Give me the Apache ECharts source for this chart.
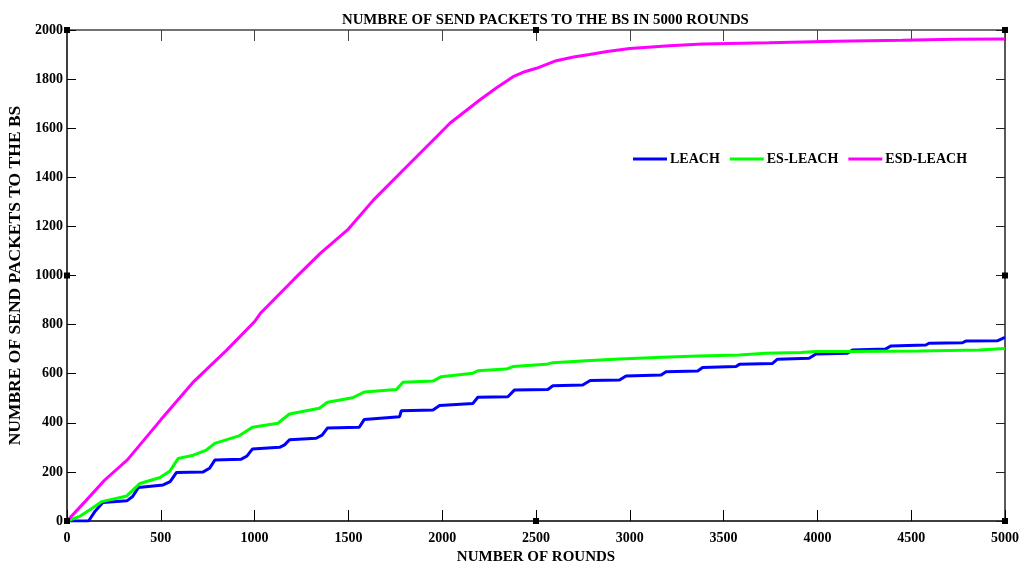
<!DOCTYPE html>
<html>
<head>
<meta charset="utf-8">
<script src="https://cdn.jsdelivr.net/npm/echarts@6/dist/echarts.min.js"></script>
<style>
html,body{margin:0;padding:0;background:#fff;}
#chart{width:1031px;height:565px;}
</style>
</head>
<body>
<div id="chart"></div>
<script>
const titleText = 'NUMBRE OF SEND PACKETS TO THE BS IN 5000 ROUNDS';
const xAxisName = 'NUMBER OF ROUNDS';
const yAxisName = 'NUMBRE OF SEND PACKETS TO THE BS';
const seriesNames = ['LEACH', 'ES-LEACH', 'ESD-LEACH'];

const leach = [[0,0],[115,0],[150,40],[191,75],[319,82],[350,100],[380,136],[513,147],[550,160],[584,198],[726,200],[760,215],[788,248],[929,252],[960,265],[988,293],[1133,300],[1160,310],[1186,331],[1328,337],[1360,350],[1389,379],[1558,382],[1584,413],[1773,425],[1782,449],[1951,452],[1986,470],[2164,479],[2190,504],[2350,506],[2386,534],[2563,536],[2590,551],[2749,554],[2789,572],[2945,574],[2980,591],[3167,595],[3193,608],[3362,611],[3388,625],[3566,629],[3584,638],[3761,642],[3787,659],[3956,663],[3992,680],[4160,683],[4187,697],[4365,701],[4391,713],[4578,717],[4595,724],[4773,726],[4791,733],[4959,734],[5000,748]];

const esLeach = [[0,0],[71,20],[130,50],[186,79],[319,102],[389,153],[496,177],[549,204],[593,255],[673,268],[743,289],[788,316],[920,348],[988,382],[1124,398],[1186,436],[1345,459],[1389,484],[1522,502],[1584,525],[1756,536],[1791,565],[1951,570],[1995,588],[2164,602],[2190,612],[2341,619],[2377,629],[2554,638],[2590,645],[2767,653],[2945,660],[3175,667],[3362,672],[3584,676],[3726,683],[3912,686],[3992,690],[4169,690],[4542,692],[4862,697],[5000,703]];

const esdLeach = [[0,0],[100,82],[200,166],[323,250],[500,412],[677,569],[850,695],[1000,812],[1030,845],[1209,984],[1350,1090],[1500,1189],[1633,1307],[1810,1443],[1970,1565],[2041,1620],[2200,1715],[2290,1765],[2378,1810],[2440,1830],[2502,1844],[2608,1875],[2700,1890],[2785,1900],[2880,1912],[3000,1925],[3211,1936],[3387,1943],[3741,1948],[4096,1954],[4450,1958],[4734,1962],[5000,1963]];

const colors = ['#0000FF', '#00FF00', '#FF00FF'];
const font = 'Liberation Serif';

const chart = echarts.init(document.getElementById('chart'), null, {renderer: 'canvas'});

function mkSeries(name, data, color) {
  return {
    name: name, type: 'line', data: data, showSymbol: false, symbol: 'none',
    lineStyle: {color: color, width: 3}, itemStyle: {color: color},
    animation: false, z: 3
  };
}

const plainNum = function (v) { return String(v); };
const baseAxisLabel = {fontFamily: font, fontWeight: 'bold', fontSize: 14, color: '#000', formatter: plainNum};

chart.setOption({
  animation: false,
  title: {
    text: titleText, left: 337, top: 8,
    textStyle: {fontFamily: font, fontWeight: 'bold', fontSize: 14.8, color: '#000'}
  },
  legend: {
    data: seriesNames, left: 628, top: 147, icon: 'rect', itemWidth: 34, itemHeight: 3,
    itemGap: 10,
    textStyle: {fontFamily: font, fontWeight: 'bold', fontSize: 14, color: '#000', padding: [0,0,0,-2]}
  },
  grid: {left: 67, right: 26, top: 30, bottom: 44, containLabel: false, outerBoundsMode: 'none'},
  xAxis: [{
    type: 'value', min: 0, max: 5000, interval: 500, position: 'bottom',
    name: xAxisName, nameLocation: 'middle', nameGap: 27,
    nameTextStyle: {fontFamily: font, fontWeight: 'bold', fontSize: 15, color: '#000'},
    axisLine: {show: true, onZero: false, lineStyle: {color: '#000', width: 1.5}},
    axisTick: {show: true, inside: true, length: 11, lineStyle: {color: '#000'}},
    axisLabel: Object.assign({margin: 10}, baseAxisLabel),
    splitLine: {show: false}
  }, {
    type: 'value', min: 0, max: 5000, interval: 500, position: 'top',
    axisLine: {show: true, onZero: false, lineStyle: {color: '#444', width: 1.5}},
    axisTick: {show: true, inside: true, length: 11, lineStyle: {color: '#444'}},
    axisLabel: {show: false}, splitLine: {show: false}
  }],
  yAxis: [{
    type: 'value', min: 0, max: 2000, interval: 200, position: 'left',
    name: yAxisName, nameLocation: 'middle', nameGap: 41, nameRotate: 90,
    nameTextStyle: {fontFamily: font, fontWeight: 'bold', fontSize: 17.5, color: '#000'},
    axisLine: {show: true, onZero: false, lineStyle: {color: '#000', width: 1.5}},
    axisTick: {show: true, inside: true, length: 9, lineStyle: {color: '#000'}},
    axisLabel: Object.assign({margin: 4}, baseAxisLabel),
    splitLine: {show: false}
  }, {
    type: 'value', min: 0, max: 2000, interval: 200, position: 'right',
    axisLine: {show: true, onZero: false, lineStyle: {color: '#222', width: 1.5}},
    axisTick: {show: true, inside: true, length: 9, lineStyle: {color: '#222'}},
    axisLabel: {show: false}, splitLine: {show: false}
  }],
  series: [
    mkSeries(seriesNames[0], leach, colors[0]),
    mkSeries(seriesNames[1], esLeach, colors[1]),
    mkSeries(seriesNames[2], esdLeach, colors[2])
  ]
});

// small selection handles at corners and mid-edges of the axes box
const handlePts = [[0,0],[2500,0],[5000,0],[0,1000],[5000,1000],[0,2000],[2500,2000],[5000,2000]];
const graphics = handlePts.map(function (p) {
  const px = chart.convertToPixel({xAxisIndex: 0, yAxisIndex: 0}, p);
  return {type: 'rect', shape: {x: px[0]-3, y: px[1]-3, width: 6, height: 6},
          style: {fill: '#000'}, z: 10};
});
chart.setOption({graphic: graphics});
</script>
</body>
</html>
